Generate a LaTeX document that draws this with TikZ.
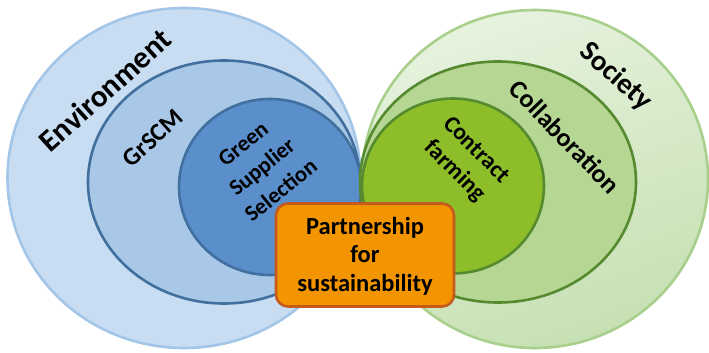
\documentclass[tikz,border=0pt]{standalone}
\usepackage{fontspec}
\setmainfont{Carlito}
\usetikzlibrary{shapes.geometric}
\definecolor{envfill}{HTML}{C8DDF1}
\definecolor{envline}{HTML}{A3C6E8}
\definecolor{grfill}{HTML}{A9C8E8}
\definecolor{grline}{HTML}{41709E}
\definecolor{gssfill}{HTML}{5B8FCC}
\definecolor{socfillA}{HTML}{E6F2DE}
\definecolor{socfillB}{HTML}{C6E0B3}
\definecolor{socline}{HTML}{A8D08C}
\definecolor{colfill}{HTML}{B6D694}
\definecolor{colline}{HTML}{558A2E}
\definecolor{confill}{HTML}{8DBE2A}
\definecolor{boxfill}{HTML}{F29500}
\definecolor{boxline}{HTML}{C55A1C}
\tikzset{
  lbl/.style={font=\bfseries, text=black, align=center, inner sep=0pt},
  ring/.style={ellipse, inner sep=0pt, line width=2.6pt},
}
\begin{document}
\begin{tikzpicture}[x=1pt,y=-1pt]
\useasboundingbox (0,0) rectangle (709,353);
% left side
\node[ring, draw=envline, fill=envfill, minimum width=353pt, minimum height=340pt] (env) at (184,178) {};
% right side
\node[ring, draw=socline, minimum width=346pt, minimum height=338pt,
      top color=socfillA, bottom color=socfillB, shading angle=20] (soc) at (535,179) {};
\node[ring, draw=grline, fill=grfill, minimum width=272pt, minimum height=243pt] (gr) at (224,182) {};
\node[ring, draw=grline, fill=gssfill, minimum width=182pt, minimum height=176pt] (gss) at (270,187) {};
\node[ring, draw=colline, fill=colfill, minimum width=276pt, minimum height=241pt] (col) at (498,182) {};
\node[ring, draw=colline, fill=confill, minimum width=182pt, minimum height=175pt] (con) at (453,186) {};
% box
\node[draw=boxline, fill=boxfill, line width=2.6pt, rounded corners=12pt,
      minimum width=178pt, minimum height=103pt, inner sep=0pt] (box) at (365,255) {};
\node[lbl, font=\fontsize{24.5}{28.5}\selectfont\bfseries] (boxtxt) at ([yshift=-1pt]box.center) {Partnership\\for\\sustainability};
% labels
\node[lbl, font=\fontsize{31}{36}\selectfont\bfseries, rotate=42] (envlbl) at (105,90) {Environment};
\node[lbl, font=\fontsize{25}{30}\selectfont\bfseries, rotate=42] (grlbl) at (153,138) {GrSCM};
\node[lbl, font=\fontsize{22.5}{30}\selectfont\bfseries, rotate=39] (gsslbl) at (262,167) {Green\\Supplier\\Selection};
\node[lbl, font=\fontsize{29}{34}\selectfont\bfseries, rotate=-42] (soclbl) at (616,77) {Society};
\node[lbl, font=\fontsize{26}{30}\selectfont\bfseries, rotate=-46] (collbl) at (565,137) {Collaboration};
\node[lbl, font=\fontsize{23.5}{30}\selectfont\bfseries, rotate=-45] (conlbl) at (465,161) {Contract\\farming};
\end{tikzpicture}
\end{document}
